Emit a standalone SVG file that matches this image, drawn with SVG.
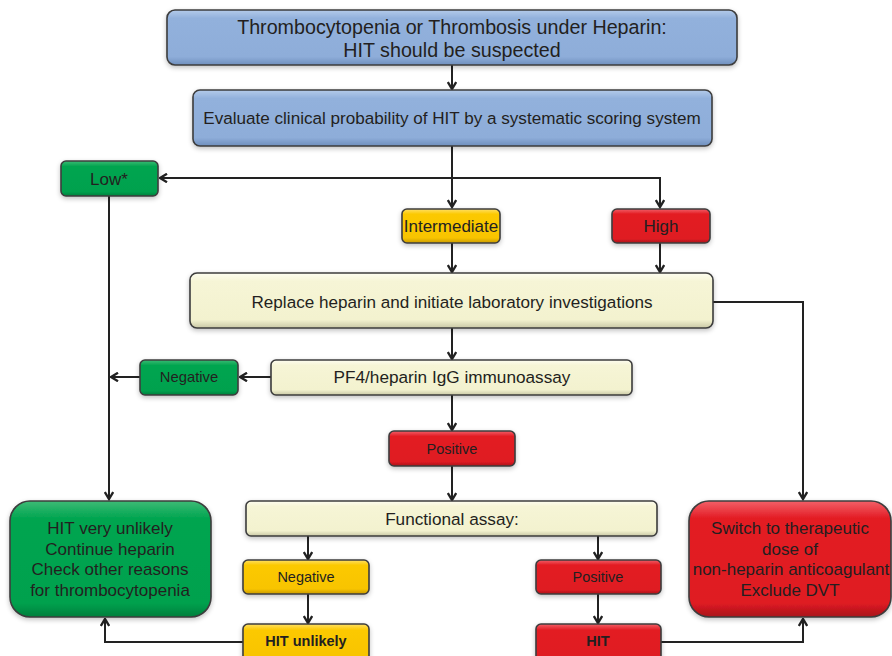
<svg xmlns="http://www.w3.org/2000/svg" width="892" height="656" viewBox="0 0 892 656">
  <defs>
    <style>
      .lbl { font-family: "Liberation Sans", Arial, sans-serif; fill: #231f20; text-anchor: middle; }
      .box { stroke: #3c3c3c; stroke-width: 1.6; filter: url(#soft); }
      .blue { fill: url(#gBlue); }
      .green { fill: url(#gGreen); }
      .yellow { fill: url(#gYellow); }
      .red { fill: url(#gRed); }
      .cream { fill: url(#gCream); }
      .wire { fill: none; stroke: #222; stroke-width: 2; }
      .arr { marker-end: url(#head); }
    </style>
    <filter id="soft" x="-10%" y="-20%" width="120%" height="150%">
      <feGaussianBlur in="SourceAlpha" stdDeviation="2.5"/>
      <feOffset dy="1.5"/>
      <feComponentTransfer><feFuncA type="linear" slope="0.25"/></feComponentTransfer>
      <feMerge><feMergeNode/><feMergeNode in="SourceGraphic"/></feMerge>
    </filter>
    <linearGradient id="gBlue" x1="0" y1="0" x2="0" y2="1">
      <stop offset="0" stop-color="#b4cbea"/><stop offset="0.15" stop-color="#92b1dc"/>
      <stop offset="0.85" stop-color="#8eadd9"/><stop offset="1" stop-color="#6f8fbd"/>
    </linearGradient>
    <linearGradient id="gGreen" x1="0" y1="0" x2="0" y2="1">
      <stop offset="0" stop-color="#3dbb76"/><stop offset="0.15" stop-color="#00a550"/>
      <stop offset="0.88" stop-color="#00a14e"/><stop offset="1" stop-color="#007f3c"/>
    </linearGradient>
    <linearGradient id="gYellow" x1="0" y1="0" x2="0" y2="1">
      <stop offset="0" stop-color="#ffe066"/><stop offset="0.15" stop-color="#fcc900"/>
      <stop offset="0.85" stop-color="#f8c400"/><stop offset="1" stop-color="#c99a00"/>
    </linearGradient>
    <linearGradient id="gRed" x1="0" y1="0" x2="0" y2="1">
      <stop offset="0" stop-color="#f26068"/><stop offset="0.15" stop-color="#e31c24"/>
      <stop offset="0.88" stop-color="#df1b23"/><stop offset="1" stop-color="#a8141a"/>
    </linearGradient>
    <linearGradient id="gCream" x1="0" y1="0" x2="0" y2="1">
      <stop offset="0" stop-color="#fdfdf0"/><stop offset="0.15" stop-color="#f6f5d6"/>
      <stop offset="0.85" stop-color="#f3f2cf"/><stop offset="1" stop-color="#c9c8a6"/>
    </linearGradient>
    <marker id="head" viewBox="0 0 10 10" refX="8.5" refY="5" markerWidth="10" markerHeight="10" markerUnits="userSpaceOnUse" orient="auto">
      <path d="M1.5,0.8 L8.5,5 L1.5,9.2" fill="none" stroke="#222" stroke-width="2.4"/>
    </marker>
  </defs>

  <rect width="892" height="656" fill="#ffffff"/>

  <!-- connectors -->
  <g id="connectors">
    <path class="wire arr" d="M452,65 V89"/>
    <path class="wire arr" d="M452,146 V207"/>
    <path class="wire arr" d="M452,178 H660 V207"/>
    <path class="wire arr" d="M452,178 H160"/>
    <path class="wire arr" d="M452,243 V272"/>
    <path class="wire arr" d="M660,243 V272"/>
    <path class="wire arr" d="M713,302 H803 V499"/>
    <path class="wire arr" d="M452,328 V359"/>
    <path class="wire arr" d="M271,377 H240"/>
    <path class="wire arr" d="M140,377 H111"/>
    <path class="wire arr" d="M109,196 V499"/>
    <path class="wire arr" d="M452,395 V430"/>
    <path class="wire arr" d="M452,466 V500"/>
    <path class="wire arr" d="M308,536 V559"/>
    <path class="wire arr" d="M598,536 V559"/>
    <path class="wire arr" d="M308,594 V623"/>
    <path class="wire arr" d="M598,594 V623"/>
    <path class="wire arr" d="M243,642 H105 V619"/>
    <path class="wire arr" d="M661,642 H803 V619"/>
  </g>

  <g id="suspect">
    <rect class="box blue" x="167" y="10" width="570" height="55" rx="8"/>
    <text class="lbl" x="452" y="34" font-size="19.7">Thrombocytopenia or Thrombosis under Heparin:</text>
    <text class="lbl" x="452" y="57" font-size="19.7">HIT should be suspected</text>
  </g>

  <g id="evaluate">
    <rect class="box blue" x="193" y="90" width="519" height="56" rx="7"/>
    <text class="lbl" x="452" y="124" font-size="17.1">Evaluate clinical probability of HIT by a systematic scoring system</text>
  </g>

  <g id="low">
    <rect class="box green" x="61" y="161" width="97" height="35" rx="5"/>
    <text class="lbl" x="109" y="185" font-size="17">Low*</text>
  </g>

  <g id="intermediate">
    <rect class="box yellow" x="402" y="209" width="98" height="34" rx="5"/>
    <text class="lbl" x="451" y="232" font-size="17">Intermediate</text>
  </g>

  <g id="high">
    <rect class="box red" x="612" y="209" width="98" height="34" rx="5"/>
    <text class="lbl" x="661" y="232" font-size="17">High</text>
  </g>

  <g id="replace">
    <rect class="box cream" x="190" y="273" width="523" height="55" rx="7"/>
    <text class="lbl" x="452" y="308" font-size="17.1">Replace heparin and initiate laboratory investigations</text>
  </g>

  <g id="immunoassay">
    <rect class="box cream" x="271" y="360" width="361" height="35" rx="5"/>
    <text class="lbl" x="452" y="383" font-size="17.2">PF4/heparin IgG immunoassay</text>
  </g>

  <g id="immuno-negative">
    <rect class="box green" x="140" y="360" width="98" height="35" rx="5"/>
    <text class="lbl" x="189" y="382" font-size="14.8">Negative</text>
  </g>

  <g id="immuno-positive">
    <rect class="box red" x="389" y="431" width="126" height="35" rx="5"/>
    <text class="lbl" x="452" y="454" font-size="14.5">Positive</text>
  </g>

  <g id="functional">
    <rect class="box cream" x="246" y="501" width="411" height="35" rx="5"/>
    <text class="lbl" x="452" y="525" font-size="17.2">Functional assay:</text>
  </g>

  <g id="func-negative">
    <rect class="box yellow" x="243" y="560" width="126" height="34" rx="5"/>
    <text class="lbl" x="306" y="582" font-size="14.5">Negative</text>
  </g>

  <g id="func-positive">
    <rect class="box red" x="536" y="560" width="125" height="34" rx="5"/>
    <text class="lbl" x="598" y="582" font-size="14.5">Positive</text>
  </g>

  <g id="hit-unlikely">
    <rect class="box yellow" x="243" y="624" width="126" height="40" rx="5"/>
    <text class="lbl" x="306" y="646" font-size="14.5" font-weight="bold">HIT unlikely</text>
  </g>

  <g id="hit">
    <rect class="box red" x="536" y="624" width="125" height="40" rx="5"/>
    <text class="lbl" x="598" y="646" font-size="14.5" font-weight="bold">HIT</text>
  </g>

  <g id="very-unlikely">
    <rect class="box green" x="10" y="501" width="201" height="116" rx="20"/>
    <text class="lbl" x="110" y="534" font-size="17">HIT very unlikely</text>
    <text class="lbl" x="110" y="554.5" font-size="17">Continue heparin</text>
    <text class="lbl" x="110" y="575" font-size="17">Check other reasons</text>
    <text class="lbl" x="110" y="595.5" font-size="17">for thrombocytopenia</text>
  </g>

  <g id="switch">
    <rect class="box red" x="689" y="501" width="202" height="116" rx="20"/>
    <text class="lbl" x="790" y="534" font-size="17">Switch to therapeutic</text>
    <text class="lbl" x="790" y="554.5" font-size="17">dose of</text>
    <text class="lbl" x="791" y="575" font-size="17">non-heparin anticoagulant</text>
    <text class="lbl" x="790" y="595.5" font-size="17">Exclude DVT</text>
  </g>
</svg>
